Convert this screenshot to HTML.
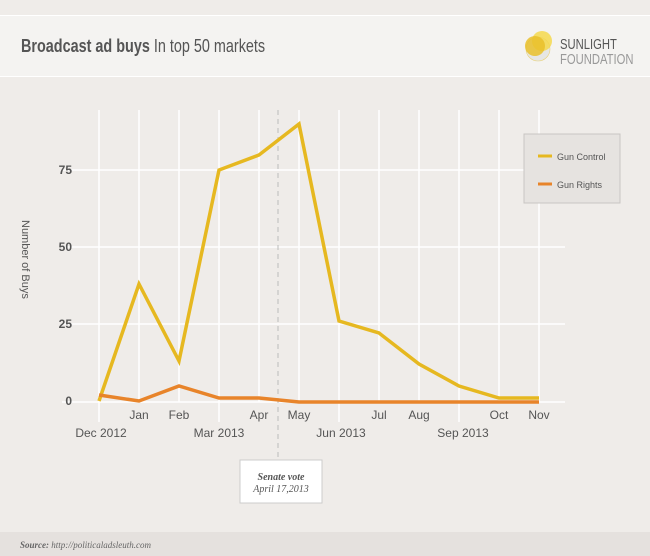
<!DOCTYPE html>
<html><head><style>
body{margin:0;width:650px;height:556px;background:#efecE9;font-family:"Liberation Sans",sans-serif;overflow:hidden;position:relative}
.hdr{position:absolute;left:0;top:15px;width:650px;height:60px;background:#f4f3f1;border-top:1px solid #fff;border-bottom:1px solid #fff}
</style></head><body>
<div class="hdr">
<div style="position:absolute;left:21px;top:20px;font-size:18px;color:#555;transform:scaleX(0.8);transform-origin:left;white-space:nowrap"><b>Broadcast ad buys</b> In top 50 markets</div>
<svg style="position:absolute;left:520px;top:12px" width="120" height="40">
<circle cx="18" cy="21" r="12" fill="#e6e6e4" stroke="#e8d27a" stroke-width="0.6"/>
<circle cx="22" cy="13" r="10" fill="#f4d84e" opacity="0.85"/>
<circle cx="15" cy="18" r="10" fill="#e9bf2a" opacity="0.85"/>
<text x="40" y="21" font-size="15" fill="#555" transform="translate(40,0) scale(0.75,1) translate(-40,0)">SUNLIGHT</text>
<text x="40" y="36" font-size="15" fill="#999" transform="translate(40,0) scale(0.75,1) translate(-40,0)">FOUNDATION</text>
</svg>
</div>
<svg style="position:absolute;left:0;top:0" width="650" height="556">
<g stroke="#fff" stroke-width="1.5">
<line x1="62" y1="170" x2="565" y2="170"/><line x1="62" y1="247" x2="565" y2="247"/><line x1="62" y1="324" x2="565" y2="324"/><line x1="62" y1="402" x2="565" y2="402"/>
<line x1="99" y1="110" x2="99" y2="422"/><line x1="139" y1="110" x2="139" y2="402"/><line x1="179" y1="110" x2="179" y2="402"/><line x1="219" y1="110" x2="219" y2="422"/><line x1="259" y1="110" x2="259" y2="402"/><line x1="299" y1="110" x2="299" y2="402"/><line x1="339" y1="110" x2="339" y2="422"/><line x1="379" y1="110" x2="379" y2="402"/><line x1="419" y1="110" x2="419" y2="402"/><line x1="459" y1="110" x2="459" y2="422"/><line x1="499" y1="110" x2="499" y2="402"/><line x1="539" y1="110" x2="539" y2="402"/>
</g>
<line x1="278" y1="110" x2="278" y2="458" stroke="#bbb" stroke-dasharray="5,4"/>
<polyline fill="none" stroke="#e6b820" stroke-width="3.5" points="99,401 139,284 179,361 219,170 259,155 299,124 339,321 379,333 419,364 459,386 499,398 539,398"/>
<polyline fill="none" stroke="#e8842a" stroke-width="3.5" points="99,395 139,401 179,386 219,398 259,398 299,402 339,402 379,402 419,402 459,402 499,402 539,402"/>
<g font-size="12" fill="#555" font-weight="bold" text-anchor="end"><text x="72" y="174">75</text><text x="72" y="251">50</text><text x="72" y="328">25</text><text x="72" y="405">0</text></g>
<g font-size="12" fill="#555" text-anchor="middle">
<text x="139" y="419">Jan</text><text x="179" y="419">Feb</text><text x="259" y="419">Apr</text><text x="299" y="419">May</text><text x="379" y="419">Jul</text><text x="419" y="419">Aug</text><text x="499" y="419">Oct</text><text x="539" y="419">Nov</text>
<text x="101" y="437">Dec 2012</text><text x="219" y="437">Mar 2013</text><text x="341" y="437">Jun 2013</text><text x="463" y="437">Sep 2013</text>
</g>
<text transform="translate(22,220) rotate(90)" font-size="11" fill="#555">Number of Buys</text>
<rect x="524" y="134" width="96" height="69" fill="#e6e3e0" stroke="#c8c6c3"/>
<line x1="538" y1="156" x2="552" y2="156" stroke="#e6b820" stroke-width="3"/>
<line x1="538" y1="184" x2="552" y2="184" stroke="#e8842a" stroke-width="3"/>
<text x="557" y="160" font-size="9" fill="#555">Gun Control</text>
<text x="557" y="188" font-size="9" fill="#555">Gun Rights</text>
<rect x="240" y="460" width="82" height="43" fill="#fff" stroke="#ccc"/>
<text x="281" y="480" font-size="10" font-style="italic" font-weight="bold" fill="#555" text-anchor="middle" font-family="Liberation Serif">Senate vote</text>
<text x="281" y="492" font-size="10" font-style="italic" fill="#555" text-anchor="middle" font-family="Liberation Serif">April 17,2013</text>
<rect x="0" y="532" width="650" height="24" fill="#e5e1de"/>
<text x="20" y="548" font-size="9" font-style="italic" fill="#666" font-family="Liberation Serif"><tspan font-weight="bold">Source:</tspan> http://politicaladsleuth.com</text>
</svg>
</body></html>
